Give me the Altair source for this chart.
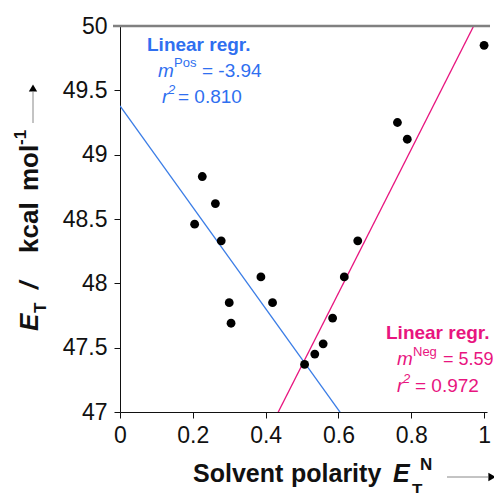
import altair as alt
import pandas as pd

# ---- data ----
polarity = [0.205, 0.226, 0.262, 0.278, 0.300, 0.305, 0.387, 0.419, 0.507,
            0.535, 0.558, 0.584, 0.616, 0.653, 0.762, 0.789, 1.000]
energy = [48.46, 48.83, 48.62, 48.33, 47.85, 47.69, 48.05, 47.85, 47.37,
          47.45, 47.53, 47.73, 48.05, 48.33, 49.25, 49.12, 49.85]

fit_names = ["Pos", "Neg"]
fit_slopes = [-3.94, 5.59]
fit_intercepts = [49.38, 44.57]
fit_r2 = ["0.810", "0.972"]
fit_colors = ["#2f6ff0", "#e8157f"]
line_colors = ["#3b7de6", "#e8157f"]

x_ticks = [0, 0.2, 0.4, 0.6, 0.8, 1.0]
y_ticks = [47, 47.5, 48, 48.5, 49, 49.5, 50]

X_DOM = [0, 1.008]
Y_DOM = [47, 50]
W, H = 367, 386
OX, OY = 120, 26  # page position of plot origin

FONT = "Liberation Sans"

pts = pd.DataFrame({"x": polarity, "y": energy})

rows = []
for name, m, b in zip(fit_names, fit_slopes, fit_intercepts):
    for xv in X_DOM:
        rows.append({"fit": name, "x": xv, "y": b + m * xv})
lines_df = pd.DataFrame(rows)

xs = alt.Scale(domain=X_DOM, nice=False, zero=False)
ys = alt.Scale(domain=Y_DOM, nice=False, zero=False)

base_x = alt.X("x:Q", scale=xs,
               axis=alt.Axis(values=x_ticks, format=".1~f", title=None, grid=False,
                             labelFontSize=23, labelFont=FONT, labelColor="#111",
                             tickColor="#111", tickSize=6, domainColor="#111",
                             labelPadding=6, labelFlush=False))
base_y = alt.Y("y:Q", scale=ys,
               axis=alt.Axis(values=y_ticks, format=".1~f", title=None, grid=False,
                             labelFontSize=23, labelFont=FONT, labelColor="#111",
                             tickColor="#111", tickSize=6, domainColor="#111",
                             labelPadding=7, labelFlush=False))

fit_lines = alt.Chart(lines_df).mark_line(clip=True, strokeWidth=1.3).encode(
    x=base_x, y=base_y,
    color=alt.Color("fit:N", scale=alt.Scale(domain=fit_names, range=line_colors), legend=None),
    detail="fit:N",
)

points = alt.Chart(pts).mark_circle(size=78, color="black", opacity=1).encode(
    x=alt.X("x:Q", scale=xs), y=alt.Y("y:Q", scale=ys))

one = alt.Data(values=[{"a": 1}])


def txt(s, px, py, size=19, color="#111", weight="normal", style="normal", angle=0):
    return alt.Chart(one).mark_text(
        text=s, font=FONT, fontSize=size, fontWeight=weight, fontStyle=style,
        color=color, align="left", baseline="alphabetic", angle=angle,
    ).encode(x=alt.value(px - OX), y=alt.value(py - OY))


def rule(x1, y1, x2, y2, color="#888", width=1):
    return alt.Chart(one).mark_rule(color=color, strokeWidth=width).encode(
        x=alt.value(x1 - OX), x2=alt.value(x2 - OX),
        y=alt.value(y1 - OY), y2=alt.value(y2 - OY))


def head(px, py, shape):
    return alt.Chart(one).mark_point(shape=shape, filled=True, color="black",
                                     size=70, opacity=1).encode(
        x=alt.value(px - OX), y=alt.value(py - OY))


layers = [fit_lines, points]

# top frame line
layers.append(rule(113, 26, 490, 26, color="#808080", width=2.5))

# annotations
bc, pc = fit_colors
layers += [
    txt("Linear regr.", 147, 51, color=bc, weight="bold"),
    txt("m", 158, 77, color=bc, style="italic"),
    txt(fit_names[0], 174, 67, size=13, color=bc),
    txt(f"= {fit_slopes[0]:.2f}", 202, 77, color=bc),
    txt("r", 162, 103, color=bc, style="italic"),
    txt("2", 168, 94, size=13, color=bc, style="italic"),
    txt(f"= {fit_r2[0]}", 178, 103, color=bc),
    txt("Linear regr.", 386, 339, color=pc, weight="bold"),
    txt("m", 397, 365, color=pc, style="italic"),
    txt(fit_names[1], 413, 356, size=13, color=pc),
    txt(f"= {fit_slopes[1]:.2f}", 443, 365, size=18, color=pc),
    txt("r", 397, 392, color=pc, style="italic"),
    txt("2", 403, 383, size=13, color=pc, style="italic"),
    txt(f"= {fit_r2[1]}", 415, 392, color=pc),
]

# x axis title
layers += [
    txt("Solvent", 193, 482, size=25, weight="bold"),
    txt("polarity", 291, 482, size=25, weight="bold"),
    txt("E", 393, 482, size=25, weight="bold", style="italic"),
    txt("T", 412, 496, size=17, weight="bold"),
    txt("N", 420, 470, size=17, weight="bold"),
    rule(447, 477, 488, 477),
    head(492, 477, "triangle-right"),
]

# y axis title (rotated)
layers += [
    txt("E", 38, 331, size=26, weight="bold", style="italic", angle=270),
    txt("T", 46, 313, size=17, weight="bold", angle=270),
    txt("/", 38, 289, size=26, weight="bold", style="italic", angle=270),
    txt("kcal", 38, 253, size=26, weight="bold", angle=270),
    txt("mol", 38, 191, size=26, weight="bold", angle=270),
    txt("-1", 26, 145, size=17, weight="bold", angle=270),
    rule(33, 123, 33, 92),
    head(33, 88, "triangle-up"),
]

chart = alt.layer(*layers).properties(
    width=W, height=H,
    autosize=alt.AutoSizeParams(type="none"),
    padding={"left": 112, "top": 18, "right": 7, "bottom": 81},
).configure_view(strokeWidth=0).configure_axis(domainWidth=1, tickWidth=1)

chart.save("out.html", embed_options={"renderer": "svg", "actions": False})
